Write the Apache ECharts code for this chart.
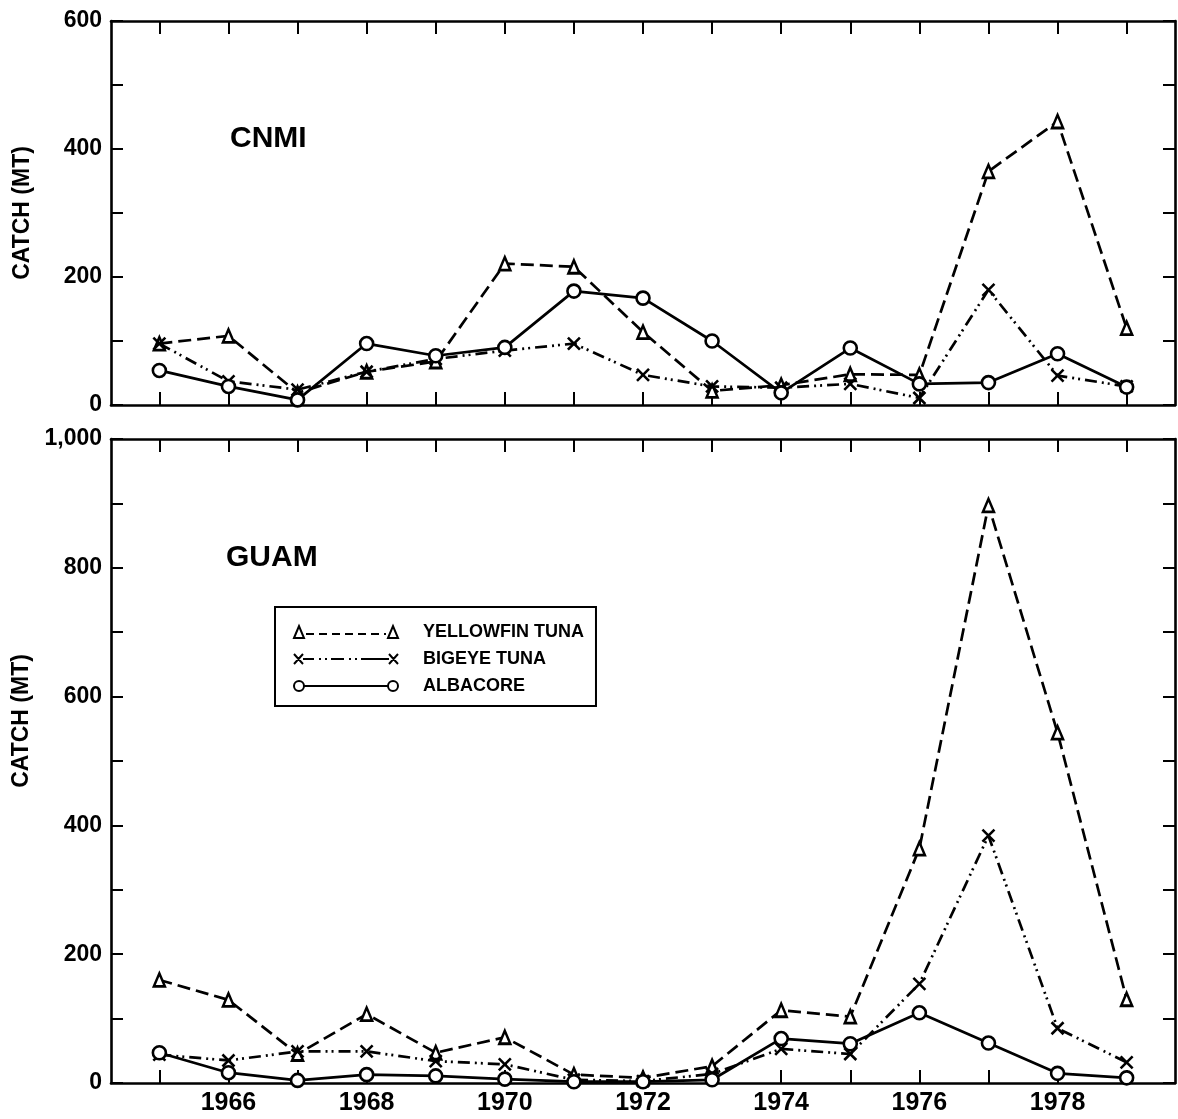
<!DOCTYPE html>
<html>
<head>
<meta charset="utf-8">
<script src="https://cdn.jsdelivr.net/npm/echarts@6/dist/echarts.min.js"></script>
<style>
html,body{margin:0;padding:0;background:#fff;}
#chart{width:1178px;height:1119px;}
</style>
</head>
<body>
<div id="chart"></div>
<script>
// ---- data ----
const years = [1965,1966,1967,1968,1969,1970,1971,1972,1973,1974,1975,1976,1977,1978,1979];
const xLabelYears = [1966,1968,1970,1972,1974,1976,1978];
const cnmiYLabels = [0,200,400,600];
const guamYLabels = [0,200,400,600,800,1000];
const seriesNames = ['YELLOWFIN TUNA','BIGEYE TUNA','ALBACORE'];

const cnmiYellowfin = [96,108,19,52,68,221,216,114,22,31,48,47,365,443,120];
const cnmiBigeye    = [96,37,24,52,72,85,96,47,29,27,33,11,180,46,29];
const cnmiAlbacore  = [54,29,8,96,77,90,178,167,100,19,89,33,35,80,28];

const guamYellowfin = [160,129,45,107,47,71,13,8,26,113,103,364,897,544,130];
const guamBigeye    = [44,35,49,49,34,29,5,3,14,53,45,154,384,85,32];
const guamAlbacore  = [47,16,4,13,11,6,2,2,5,69,61,109,62,15,8];

// ---- styling ----
const FONT = 'Liberation Sans';
const BLACK = '#000';
const pair = arr => years.map((y,i)=>[y,arr[i]]);

const xSymbol = 'path://M0 0 L10 10 M10 0 L0 10';
const styles = {
  'YELLOWFIN TUNA': {symbol:'triangle', symbolSize:[11,13], line:{type:[13,6]}},
  'BIGEYE TUNA':   {symbol:xSymbol, symbolSize:12, line:{type:[12,5,2,4,2,5]}},
  'ALBACORE':      {symbol:'circle', symbolSize:13, line:{type:'solid'}}
};

function makeSeries(name, arr, gi){
  const s = styles[name];
  return {
    name: name, type:'line',
    xAxisIndex: gi*2, yAxisIndex: gi*2,
    data: pair(arr),
    symbol: s.symbol, symbolSize: s.symbolSize,
    showSymbol: true,
    lineStyle: {color:BLACK, width:2.7, type:s.line.type},
    itemStyle: {color: name==='BIGEYE TUNA' ? 'rgba(0,0,0,0)' : '#fff', borderColor:BLACK, borderWidth:2.6},
    emphasis:{disabled:true},
    z: name==='ALBACORE' ? 4 : 3
  };
}

function xAxisDef(gi, pos, showLabels){
  return {
    type:'value', gridIndex:gi, position:pos,
    min:1964.3, max:1979.7,
    axisLine:{show:true, onZero:false, lineStyle:{color:BLACK, width:2.6}},
    axisTick:{show:true, inside:true, length:13, customValues: years, lineStyle:{color:BLACK, width:2}},
    axisLabel:{show:showLabels, customValues: xLabelYears, margin:8,
      formatter: v => String(v), color:BLACK, fontFamily:FONT, fontWeight:'bold', fontSize:25},
    splitLine:{show:false}
  };
}

function yAxisDef(gi, pos, max, labels, name, namePad){
  const d = {
    type:'value', gridIndex:gi, position:pos,
    min:0, max:max, interval:100,
    axisLine:{show:true, onZero:false, lineStyle:{color:BLACK, width:2.6}},
    axisTick:{show:true, inside:true, length:12, lineStyle:{color:BLACK, width:2}},
    axisLabel:{show: !!labels, customValues: labels || undefined, margin:9,
      formatter: v => v>=1000 ? '1,000' : String(v),
      color:BLACK, fontFamily:FONT, fontWeight:'bold', fontSize:23},
    splitLine:{show:false}
  };
  if (name){
    d.name = name;
    d.nameLocation = 'middle';
    d.nameGap = 77;
    d.nameTextStyle = {color:BLACK, fontFamily:FONT, fontWeight:'bold', fontSize:23, padding:namePad};
  }
  return d;
}

function legendIcon(kind){
  if (kind==='tri'){
    let p = 'M0 12 L5 0 L10 12 Z ';
    for (let x=12; x<92; x+=13) p += 'M'+x+' 8 L'+Math.min(x+8,92)+' 8 ';
    p += 'M94 12 L99 0 L104 12 Z';
    return 'path://'+p;
  }
  if (kind==='x'){
    return 'path://M0 1 L9 11 M9 1 L0 11 M0 12 L0 12 M104 0 L104 0 ' +
      'M9 6 L20 6 M25 6 L27 6 M31 6 L33 6 M37 6 L50 6 M55 6 L57 6 M61 6 L63 6 M67 6 L95 6 ' +
      'M95 1 L104 11 M104 1 L95 11';
  }
  return 'path://M0 6 A5 5 0 1 0 10 6 A5 5 0 1 0 0 6 Z M10 6 L94 6 M94 6 A5 5 0 1 0 104 6 A5 5 0 1 0 94 6 Z M0 0 L0 0 M0 12 L0 12';
}

const legendItemStyle = {color:'rgba(0,0,0,0)', borderColor:BLACK, borderWidth:2};

const option = {
  animation:false,
  backgroundColor:'#fff',
  title:[
    {text:'CNMI', left:225, top:119, textStyle:{color:BLACK, fontFamily:FONT, fontWeight:'bold', fontSize:30}},
    {text:'GUAM', left:221, top:538, textStyle:{color:BLACK, fontFamily:FONT, fontWeight:'bold', fontSize:30}}
  ],
  grid:[
    {left:111, right:3, top:21, height:384},
    {left:111, right:3, top:439, height:644}
  ],
  xAxis:[
    xAxisDef(0,'bottom',false), xAxisDef(0,'top',false),
    xAxisDef(1,'bottom',true),  xAxisDef(1,'top',false)
  ],
  yAxis:[
    yAxisDef(0,'left',600,cnmiYLabels,'CATCH (MT)',[0,0,0,0]),
    yAxisDef(0,'right',600,null),
    yAxisDef(1,'left',1000,guamYLabels,'CATCH (MT)',[0,0,0,80]),
    yAxisDef(1,'right',1000,null)
  ],
  legend:{
    orient:'vertical', left:275, top:607,
    padding:[15,12,10,18],
    itemWidth:104, itemHeight:12, itemGap:7,
    borderColor:BLACK, borderWidth:2,
    selectedMode:false,
    textStyle:{color:BLACK, fontFamily:FONT, fontWeight:'bold', fontSize:18, lineHeight:20, padding:[0,0,0,20]},
    data:[
      {name:seriesNames[0], icon:legendIcon('tri'), itemStyle:legendItemStyle},
      {name:seriesNames[1], icon:legendIcon('x'), itemStyle:legendItemStyle},
      {name:seriesNames[2], icon:legendIcon('o'), itemStyle:legendItemStyle}
    ]
  },
  series:[
    makeSeries(seriesNames[0], cnmiYellowfin, 0),
    makeSeries(seriesNames[1], cnmiBigeye, 0),
    makeSeries(seriesNames[2], cnmiAlbacore, 0),
    makeSeries(seriesNames[0], guamYellowfin, 1),
    makeSeries(seriesNames[1], guamBigeye, 1),
    makeSeries(seriesNames[2], guamAlbacore, 1)
  ]
};

const chart = echarts.init(document.getElementById('chart'), null, {renderer:'canvas'});
chart.setOption(option);
</script>
</body>
</html>
